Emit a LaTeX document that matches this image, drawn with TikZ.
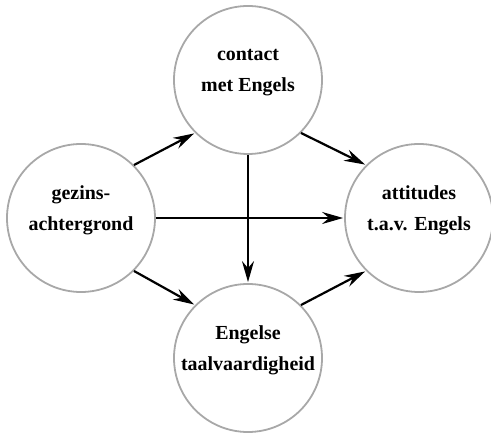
\documentclass[tikz,border=0pt]{standalone}
\usepackage{fontspec}
\setmainfont{Liberation Serif}
\usetikzlibrary{arrows.meta}
\definecolor{circgray}{HTML}{A8A8A8}
\newcommand{\circd}{148bp}
\newcommand{\fsize}{20}
\newcommand{\lsep}{31}

\begin{document}
\begin{tikzpicture}[x=1bp, y=1bp,
    factor/.style={circle, draw=circgray, line width=1.8bp, minimum size=\circd, inner sep=0pt, align=center, text depth=19bp, font=\bfseries\fontsize{\fsize}{\lsep}\selectfont},
    effect/.style={line width=2.2bp, -{Stealth[length=21bp, width=12bp, inset=7bp]}, shorten >=1bp}]
    \useasboundingbox (0,0) rectangle (491,434);
    \node[factor] (contact) at (248,354) {contact\\met Engels};
    \node[factor] (gezin) at (81,216) {gezins-\\achtergrond};
    \node[factor] (attitude) at (419,216) {attitudes\\t.a.v. Engels};
    \node[factor] (vaardig) at (248,76) {Engelse\\taalvaardigheid};
    \draw[effect] (gezin.north east) -- (contact.south west);
    \draw[effect] (contact.south east) -- (attitude.north west);
    \draw[effect] (gezin.east) -- (attitude.west);
    \draw[effect] (contact.south) -- (vaardig.north);
    \draw[effect] (gezin.south east) -- (vaardig.north west);
    \draw[effect] (vaardig.north east) -- (attitude.south west);
\end{tikzpicture}
\end{document}
